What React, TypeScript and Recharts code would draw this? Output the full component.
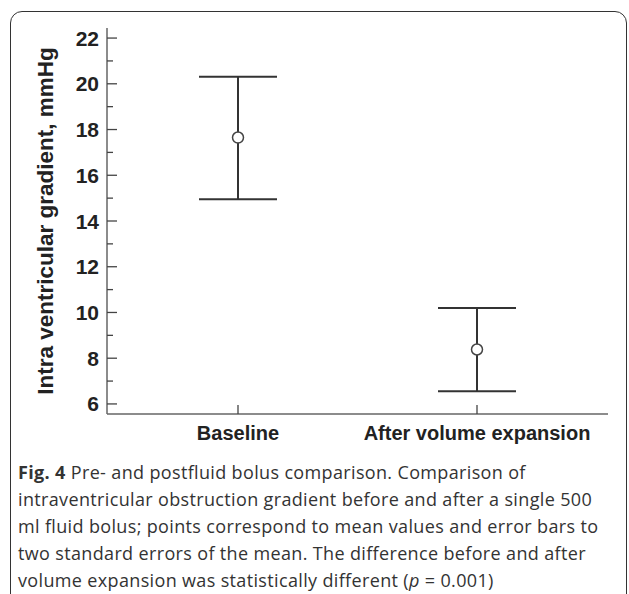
import { ComposedChart, Line, ErrorBar, XAxis, YAxis, Label } from 'recharts'

const CATEGORIES = ['Baseline', 'After volume expansion']
const MEANS = [17.65, 8.38]
const LOWER = [14.95, 6.55]
const UPPER = [20.31, 10.2]
const Y_TICKS = [6, 7, 8, 9, 10, 11, 12, 13, 14, 15, 16, 17, 18, 19, 20, 21, 22]

const data = CATEGORIES.map((name, i) => ({
  name,
  mean: MEANS[i],
  err: [MEANS[i] - LOWER[i], UPPER[i] - MEANS[i]],
}))

const FONT = '"Liberation Sans", Arial, sans-serif'

function YTick({ x, y, payload }: { x: number; y: number; payload: { value: number } }) {
  const major = payload.value % 2 === 0
  return (
    <g>
      <line x1={x} x2={x + (major ? 10 : 6)} y1={y} y2={y} stroke="#444" strokeWidth={1.3} />
      {major && (
        <text x={x - 8} y={y} dy="0.36em" textAnchor="end" fontFamily={FONT} fontWeight={700} fontSize={21} fill="#222">
          {payload.value}
        </text>
      )}
    </g>
  )
}

function XTick({ x, y, payload }: { x: number; y: number; payload: { value: string } }) {
  return (
    <g>
      <line x1={x} x2={x} y1={y} y2={y - 9} stroke="#444" strokeWidth={1.3} />
      <text x={x} y={y + 26} textAnchor="middle" fontFamily={FONT} fontWeight={700} fontSize={20} fill="#222">
        {payload.value}
      </text>
    </g>
  )
}

function YLabel({ viewBox }: { viewBox?: { x: number; y: number; width: number; height: number } }) {
  if (!viewBox) return null
  const cx = 45
  const cy = viewBox.y + viewBox.height / 2
  return (
    <text
      x={cx} y={cy} textAnchor="middle" dominantBaseline="central"
      transform={`rotate(-90, ${cx}, ${cy})`}
      fontFamily={FONT} fontWeight={700} fontSize={22.5} fill="#222"
    >
      Intra ventricular gradient, mmHg
    </text>
  )
}

export default function App() {
  return (
    <div style={{ position: 'absolute', left: 0, top: 0, width: 629, height: 594, overflow: 'hidden', background: 'white' }}>
      <div style={{
        position: 'absolute', left: 10, top: 11, width: 615, height: 640,
        border: '1.5px solid #333', borderRadius: 12,
      }} />
      <div style={{ position: 'absolute', left: 0, top: 0 }}>
        <ComposedChart width={629} height={460} data={data} margin={{ top: 28, right: 21, bottom: 0, left: 0 }}>
          <XAxis
            dataKey="name" height={46} padding={{ left: 131, right: 131 }}
            tickSize={0} tickMargin={0} tickLine={false}
            axisLine={{ stroke: '#666', strokeWidth: 1.5 }}
            tick={XTick as any} interval={0}
          />
          <YAxis
            width={107} type="number" domain={[5.56, 22.44]} ticks={Y_TICKS} interval={0}
            tickSize={0} tickMargin={0} tickLine={false}
            axisLine={{ stroke: '#666', strokeWidth: 1.5 }}
            tick={YTick as any}
          >
            <Label content={YLabel as any} />
          </YAxis>
          <Line
            dataKey="mean" stroke="none" isAnimationActive={false}
            dot={{ r: 5.5, fill: '#fff', stroke: '#444', strokeWidth: 1.5 }}
            activeDot={false}
          >
            <ErrorBar dataKey="err" direction="y" width={39} stroke="#333" strokeWidth={2} isAnimationActive={false} />
          </Line>
        </ComposedChart>
      </div>
      <div style={{
        position: 'absolute', left: 18, top: 459, width: 610,
        fontFamily: '"Open Sans", sans-serif', fontSize: 18, letterSpacing: '0.35px', lineHeight: '27px', color: '#333',
        whiteSpace: 'nowrap',
      }}>
        <b>Fig. 4</b> Pre- and postfluid bolus comparison. Comparison of<br />
        intraventricular obstruction gradient before and after a single 500<br />
        ml fluid bolus; points correspond to mean values and error bars to<br />
        two standard errors of the mean. The difference before and after<br />
        volume expansion was statistically different (<i>p</i> = 0.001)
      </div>
    </div>
  )
}
